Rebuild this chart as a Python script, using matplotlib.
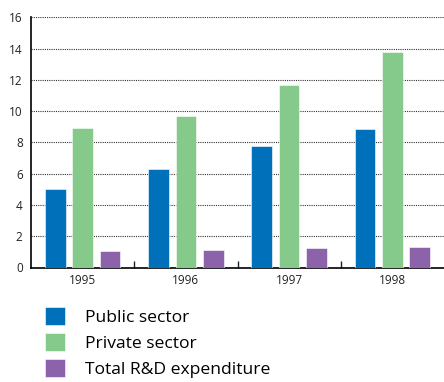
import matplotlib
matplotlib.use("Agg")
import matplotlib.pyplot as plt
from matplotlib.patches import Patch
import numpy as np

years = ["1995", "1996", "1997", "1998"]
public = [5.0, 6.3, 7.8, 8.85]
private = [8.9, 9.7, 11.7, 13.8]
total_rd = [1.05, 1.1, 1.25, 1.32]
series_names = ["Public sector", "Private sector", "Total R&D expenditure"]
colors = ["#0070BB", "#85C98B", "#8C62AA"]

plt.rcParams['font.family'] = ['Open Sans', 'DejaVu Sans']

fig = plt.figure(figsize=(4.44, 3.82), dpi=100)
ax = fig.add_axes([31/444, 1-267.5/382, 1-31/444, (267.5-17.3)/382])

x = np.arange(len(years))
w = 0.2
off = 0.265
for vals, c, dx in zip([public, private, total_rd], colors, [-off, 0, off]):
    ax.bar(x + dx, vals, width=w, color=c, edgecolor='white', linewidth=0.4, zorder=3)

ax.set_xlim(-0.5, len(years) - 0.5)
ax.set_ylim(0, 16)
ax.set_yticks(np.arange(0, 17, 2))
ax.tick_params(axis='y', length=0, labelsize=8.5, pad=6, colors='#222222')
ax.set_xticks(x)
ax.set_xticklabels(years)
ax.set_xticks(np.arange(0.5, len(years) - 0.5, 1), minor=True)
ax.tick_params(axis='x', which='major', length=0, labelsize=8.5, pad=5, colors='#222222')
ax.tick_params(axis='x', which='minor', length=5, direction='in', width=1, color='#222222')

for yv in range(2, 17, 2):
    ax.axhline(yv, color='#333333', linestyle=(0, (1.0, 1.0)), linewidth=0.8, zorder=1)

for s in ['top', 'right']:
    ax.spines[s].set_visible(False)
ax.spines['left'].set_linewidth(1.2)
ax.spines['bottom'].set_linewidth(1.2)

handles = [Patch(facecolor=c, edgecolor='white', linewidth=0.4) for c in colors]
fig.legend(handles, series_names, loc='upper left',
           bbox_to_anchor=(40/444, 1-302/382), frameon=False, fontsize=12.6,
           handlelength=1.15, handleheight=1.15, handletextpad=1.1,
           labelspacing=0.42, borderaxespad=0, borderpad=0.3)

fig.savefig("out.png", dpi=100)
